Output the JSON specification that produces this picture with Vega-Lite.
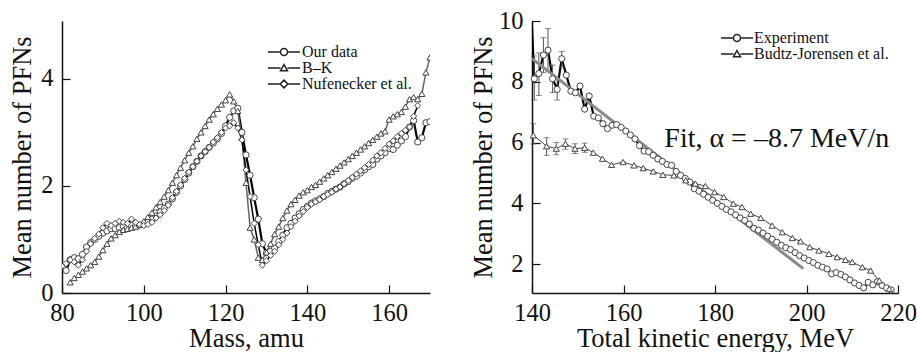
{
  "$schema": "https://vega.github.io/schema/vega-lite/v6.json",
  "padding": {"left": 9, "top": 8, "right": 0, "bottom": 0},
  "spacing": 40,
  "resolve": {"scale": {"shape": "independent"}, "legend": {"shape": "independent"}},
  "config": {
    "view": {"stroke": null},
    "font": "Liberation Serif",
    "axis": {
      "grid": false,
      "domainColor": "#111",
      "domainWidth": 1.5,
      "tickColor": "#111",
      "tickWidth": 1.2,
      "tickSize": -8,
      "labelFont": "Liberation Serif",
      "labelFontSize": 24.5,
      "labelColor": "#111",
      "labelFlush": false,
      "titleFont": "Liberation Serif",
      "titleFontSize": 26.5,
      "titleFontWeight": "normal",
      "titleColor": "#111"
    },
    "legend": {
      "labelFont": "Liberation Serif",
      "labelFontSize": 16,
      "labelColor": "#111"
    }
  },
  "datasets": {
    "left": [
      {"m":81,"v":0.42,"s":"Our data"},{"m":82,"v":0.62,"s":"Our data"},{"m":83,"v":0.66,"s":"Our data"},{"m":84,"v":0.64,"s":"Our data"},{"m":85,"v":0.72,"s":"Our data"},{"m":86,"v":0.86,"s":"Our data"},{"m":87,"v":0.94,"s":"Our data"},{"m":88,"v":1.0,"s":"Our data"},{"m":89,"v":1.06,"s":"Our data"},{"m":90,"v":1.12,"s":"Our data"},{"m":91,"v":1.16,"s":"Our data"},{"m":92,"v":1.2,"s":"Our data"},{"m":93,"v":1.2,"s":"Our data"},{"m":94,"v":1.22,"s":"Our data"},{"m":95,"v":1.24,"s":"Our data"},{"m":96,"v":1.22,"s":"Our data"},{"m":97,"v":1.26,"s":"Our data"},{"m":98,"v":1.25,"s":"Our data"},{"m":99,"v":1.27,"s":"Our data"},{"m":100,"v":1.28,"s":"Our data"},{"m":101,"v":1.32,"s":"Our data"},{"m":102,"v":1.38,"s":"Our data"},{"m":103,"v":1.44,"s":"Our data"},{"m":104,"v":1.52,"s":"Our data"},{"m":105,"v":1.58,"s":"Our data"},{"m":106,"v":1.66,"s":"Our data"},{"m":107,"v":1.76,"s":"Our data"},{"m":108,"v":1.88,"s":"Our data"},{"m":109,"v":2.0,"s":"Our data"},{"m":110,"v":2.12,"s":"Our data"},{"m":111,"v":2.24,"s":"Our data"},{"m":112,"v":2.36,"s":"Our data"},{"m":113,"v":2.46,"s":"Our data"},{"m":114,"v":2.56,"s":"Our data"},{"m":115,"v":2.64,"s":"Our data"},{"m":116,"v":2.72,"s":"Our data"},{"m":117,"v":2.8,"s":"Our data"},{"m":118,"v":2.88,"s":"Our data"},{"m":119,"v":2.98,"s":"Our data"},{"m":120,"v":3.12,"s":"Our data"},{"m":121,"v":3.28,"s":"Our data"},{"m":122,"v":3.4,"s":"Our data"},{"m":123,"v":3.45,"s":"Our data"},{"m":124,"v":3.0,"s":"Our data"},{"m":125,"v":2.58,"s":"Our data"},{"m":126,"v":2.2,"s":"Our data"},{"m":127,"v":1.78,"s":"Our data"},{"m":128,"v":1.38,"s":"Our data"},{"m":129,"v":0.92,"s":"Our data"},{"m":130,"v":0.75,"s":"Our data"},{"m":131,"v":0.78,"s":"Our data"},{"m":132,"v":0.84,"s":"Our data"},{"m":133,"v":0.96,"s":"Our data"},{"m":134,"v":1.08,"s":"Our data"},{"m":135,"v":1.22,"s":"Our data"},{"m":136,"v":1.3,"s":"Our data"},{"m":137,"v":1.4,"s":"Our data"},{"m":138,"v":1.48,"s":"Our data"},{"m":139,"v":1.56,"s":"Our data"},{"m":140,"v":1.62,"s":"Our data"},{"m":141,"v":1.68,"s":"Our data"},{"m":142,"v":1.72,"s":"Our data"},{"m":143,"v":1.76,"s":"Our data"},{"m":144,"v":1.8,"s":"Our data"},{"m":145,"v":1.86,"s":"Our data"},{"m":146,"v":1.9,"s":"Our data"},{"m":147,"v":1.94,"s":"Our data"},{"m":148,"v":1.98,"s":"Our data"},{"m":149,"v":2.04,"s":"Our data"},{"m":150,"v":2.08,"s":"Our data"},{"m":151,"v":2.14,"s":"Our data"},{"m":152,"v":2.18,"s":"Our data"},{"m":153,"v":2.24,"s":"Our data"},{"m":154,"v":2.3,"s":"Our data"},{"m":155,"v":2.36,"s":"Our data"},{"m":156,"v":2.4,"s":"Our data"},{"m":157,"v":2.5,"s":"Our data"},{"m":158,"v":2.56,"s":"Our data"},{"m":159,"v":2.62,"s":"Our data"},{"m":160,"v":2.7,"s":"Our data"},{"m":161,"v":2.68,"s":"Our data"},{"m":162,"v":2.76,"s":"Our data"},{"m":163,"v":2.84,"s":"Our data"},{"m":164,"v":2.92,"s":"Our data"},{"m":165,"v":3.1,"s":"Our data"},{"m":166,"v":3.22,"s":"Our data"},{"m":167,"v":2.82,"s":"Our data"},{"m":168,"v":2.9,"s":"Our data"},{"m":169,"v":3.18,"s":"Our data"},{"m":170,"v":3.2,"s":"Our data"},
      {"m":82,"v":0.2,"s":"B–K"},{"m":83,"v":0.28,"s":"B–K"},{"m":84,"v":0.34,"s":"B–K"},{"m":85,"v":0.4,"s":"B–K"},{"m":86,"v":0.46,"s":"B–K"},{"m":87,"v":0.52,"s":"B–K"},{"m":88,"v":0.58,"s":"B–K"},{"m":89,"v":0.68,"s":"B–K"},{"m":90,"v":0.8,"s":"B–K"},{"m":91,"v":0.92,"s":"B–K"},{"m":92,"v":1.02,"s":"B–K"},{"m":93,"v":1.08,"s":"B–K"},{"m":94,"v":1.14,"s":"B–K"},{"m":95,"v":1.18,"s":"B–K"},{"m":96,"v":1.2,"s":"B–K"},{"m":97,"v":1.22,"s":"B–K"},{"m":98,"v":1.24,"s":"B–K"},{"m":99,"v":1.28,"s":"B–K"},{"m":100,"v":1.34,"s":"B–K"},{"m":101,"v":1.42,"s":"B–K"},{"m":102,"v":1.5,"s":"B–K"},{"m":103,"v":1.6,"s":"B–K"},{"m":104,"v":1.7,"s":"B–K"},{"m":105,"v":1.8,"s":"B–K"},{"m":106,"v":1.92,"s":"B–K"},{"m":107,"v":2.06,"s":"B–K"},{"m":108,"v":2.2,"s":"B–K"},{"m":109,"v":2.34,"s":"B–K"},{"m":110,"v":2.48,"s":"B–K"},{"m":111,"v":2.62,"s":"B–K"},{"m":112,"v":2.74,"s":"B–K"},{"m":113,"v":2.88,"s":"B–K"},{"m":114,"v":3.0,"s":"B–K"},{"m":115,"v":3.12,"s":"B–K"},{"m":116,"v":3.24,"s":"B–K"},{"m":117,"v":3.34,"s":"B–K"},{"m":118,"v":3.44,"s":"B–K"},{"m":119,"v":3.52,"s":"B–K"},{"m":120,"v":3.6,"s":"B–K"},{"m":121,"v":3.71,"s":"B–K"},{"m":122,"v":3.58,"s":"B–K"},{"m":123,"v":3.4,"s":"B–K"},{"m":124,"v":2.9,"s":"B–K"},{"m":125,"v":2.06,"s":"B–K"},{"m":126,"v":1.22,"s":"B–K"},{"m":127,"v":1.0,"s":"B–K"},{"m":128,"v":0.66,"s":"B–K"},{"m":129,"v":0.62,"s":"B–K"},{"m":130,"v":0.76,"s":"B–K"},{"m":131,"v":0.92,"s":"B–K"},{"m":132,"v":1.1,"s":"B–K"},{"m":133,"v":1.24,"s":"B–K"},{"m":134,"v":1.4,"s":"B–K"},{"m":135,"v":1.54,"s":"B–K"},{"m":136,"v":1.66,"s":"B–K"},{"m":137,"v":1.74,"s":"B–K"},{"m":138,"v":1.82,"s":"B–K"},{"m":139,"v":1.88,"s":"B–K"},{"m":140,"v":1.92,"s":"B–K"},{"m":141,"v":1.98,"s":"B–K"},{"m":142,"v":2.02,"s":"B–K"},{"m":143,"v":2.08,"s":"B–K"},{"m":144,"v":2.14,"s":"B–K"},{"m":145,"v":2.2,"s":"B–K"},{"m":146,"v":2.26,"s":"B–K"},{"m":147,"v":2.32,"s":"B–K"},{"m":148,"v":2.38,"s":"B–K"},{"m":149,"v":2.44,"s":"B–K"},{"m":150,"v":2.5,"s":"B–K"},{"m":151,"v":2.56,"s":"B–K"},{"m":152,"v":2.62,"s":"B–K"},{"m":153,"v":2.68,"s":"B–K"},{"m":154,"v":2.74,"s":"B–K"},{"m":155,"v":2.8,"s":"B–K"},{"m":156,"v":2.86,"s":"B–K"},{"m":157,"v":2.92,"s":"B–K"},{"m":158,"v":2.98,"s":"B–K"},{"m":159,"v":3.02,"s":"B–K"},{"m":160,"v":3.24,"s":"B–K"},{"m":161,"v":3.3,"s":"B–K"},{"m":162,"v":3.34,"s":"B–K"},{"m":163,"v":3.38,"s":"B–K"},{"m":164,"v":3.48,"s":"B–K"},{"m":165,"v":3.62,"s":"B–K"},{"m":166,"v":3.66,"s":"B–K"},{"m":167,"v":3.62,"s":"B–K"},{"m":168,"v":3.72,"s":"B–K"},{"m":169,"v":4.12,"s":"B–K"},{"m":170,"v":4.4,"s":"B–K"},
      {"m":80,"v":0.5,"s":"Nufenecker et al."},{"m":81,"v":0.55,"s":"Nufenecker et al."},{"m":82,"v":0.62,"s":"Nufenecker et al."},{"m":83,"v":0.58,"s":"Nufenecker et al."},{"m":84,"v":0.52,"s":"Nufenecker et al."},{"m":85,"v":0.62,"s":"Nufenecker et al."},{"m":86,"v":0.78,"s":"Nufenecker et al."},{"m":87,"v":0.92,"s":"Nufenecker et al."},{"m":88,"v":1.02,"s":"Nufenecker et al."},{"m":89,"v":1.1,"s":"Nufenecker et al."},{"m":90,"v":1.22,"s":"Nufenecker et al."},{"m":91,"v":1.3,"s":"Nufenecker et al."},{"m":92,"v":1.26,"s":"Nufenecker et al."},{"m":93,"v":1.3,"s":"Nufenecker et al."},{"m":94,"v":1.34,"s":"Nufenecker et al."},{"m":95,"v":1.32,"s":"Nufenecker et al."},{"m":96,"v":1.3,"s":"Nufenecker et al."},{"m":97,"v":1.38,"s":"Nufenecker et al."},{"m":98,"v":1.32,"s":"Nufenecker et al."},{"m":99,"v":1.28,"s":"Nufenecker et al."},{"m":100,"v":1.26,"s":"Nufenecker et al."},{"m":101,"v":1.28,"s":"Nufenecker et al."},{"m":102,"v":1.32,"s":"Nufenecker et al."},{"m":103,"v":1.4,"s":"Nufenecker et al."},{"m":104,"v":1.46,"s":"Nufenecker et al."},{"m":105,"v":1.54,"s":"Nufenecker et al."},{"m":106,"v":1.64,"s":"Nufenecker et al."},{"m":107,"v":1.78,"s":"Nufenecker et al."},{"m":108,"v":1.9,"s":"Nufenecker et al."},{"m":109,"v":2.02,"s":"Nufenecker et al."},{"m":110,"v":2.14,"s":"Nufenecker et al."},{"m":111,"v":2.26,"s":"Nufenecker et al."},{"m":112,"v":2.36,"s":"Nufenecker et al."},{"m":113,"v":2.46,"s":"Nufenecker et al."},{"m":114,"v":2.56,"s":"Nufenecker et al."},{"m":115,"v":2.64,"s":"Nufenecker et al."},{"m":116,"v":2.72,"s":"Nufenecker et al."},{"m":117,"v":2.82,"s":"Nufenecker et al."},{"m":118,"v":2.9,"s":"Nufenecker et al."},{"m":119,"v":3.0,"s":"Nufenecker et al."},{"m":120,"v":3.08,"s":"Nufenecker et al."},{"m":121,"v":3.12,"s":"Nufenecker et al."},{"m":122,"v":3.18,"s":"Nufenecker et al."},{"m":123,"v":3.08,"s":"Nufenecker et al."},{"m":124,"v":2.86,"s":"Nufenecker et al."},{"m":125,"v":2.3,"s":"Nufenecker et al."},{"m":126,"v":1.8,"s":"Nufenecker et al."},{"m":127,"v":1.3,"s":"Nufenecker et al."},{"m":128,"v":0.9,"s":"Nufenecker et al."},{"m":129,"v":0.52,"s":"Nufenecker et al."},{"m":130,"v":0.6,"s":"Nufenecker et al."},{"m":131,"v":0.7,"s":"Nufenecker et al."},{"m":132,"v":0.78,"s":"Nufenecker et al."},{"m":133,"v":0.9,"s":"Nufenecker et al."},{"m":134,"v":1.0,"s":"Nufenecker et al."},{"m":135,"v":1.12,"s":"Nufenecker et al."},{"m":136,"v":1.24,"s":"Nufenecker et al."},{"m":137,"v":1.34,"s":"Nufenecker et al."},{"m":138,"v":1.44,"s":"Nufenecker et al."},{"m":139,"v":1.52,"s":"Nufenecker et al."},{"m":140,"v":1.6,"s":"Nufenecker et al."},{"m":141,"v":1.66,"s":"Nufenecker et al."},{"m":142,"v":1.7,"s":"Nufenecker et al."},{"m":143,"v":1.74,"s":"Nufenecker et al."},{"m":144,"v":1.8,"s":"Nufenecker et al."},{"m":145,"v":1.84,"s":"Nufenecker et al."},{"m":146,"v":1.88,"s":"Nufenecker et al."},{"m":147,"v":1.94,"s":"Nufenecker et al."},{"m":148,"v":1.98,"s":"Nufenecker et al."},{"m":149,"v":2.04,"s":"Nufenecker et al."},{"m":150,"v":2.1,"s":"Nufenecker et al."},{"m":151,"v":2.16,"s":"Nufenecker et al."},{"m":152,"v":2.22,"s":"Nufenecker et al."},{"m":153,"v":2.28,"s":"Nufenecker et al."},{"m":154,"v":2.34,"s":"Nufenecker et al."},{"m":155,"v":2.4,"s":"Nufenecker et al."},{"m":156,"v":2.48,"s":"Nufenecker et al."},{"m":157,"v":2.56,"s":"Nufenecker et al."},{"m":158,"v":2.62,"s":"Nufenecker et al."},{"m":159,"v":2.7,"s":"Nufenecker et al."},{"m":160,"v":2.78,"s":"Nufenecker et al."},{"m":161,"v":2.84,"s":"Nufenecker et al."},{"m":162,"v":2.92,"s":"Nufenecker et al."},{"m":163,"v":2.98,"s":"Nufenecker et al."},{"m":164,"v":3.04,"s":"Nufenecker et al."},{"m":165,"v":3.1,"s":"Nufenecker et al."},{"m":166,"v":3.3,"s":"Nufenecker et al."},{"m":167,"v":3.5,"s":"Nufenecker et al."}
    ],
    "right": [
      {"E":139.5,"v":11.5,"s":"Experiment"},
      {"E":140.5,"v":8.1,"s":"Experiment","lo":7.4,"hi":8.85},{"E":141.5,"v":8.27,"s":"Experiment","lo":7.55,"hi":8.95},{"E":142.5,"v":8.88,"s":"Experiment","lo":8.3,"hi":9.45},{"E":143.5,"v":9.04,"s":"Experiment","lo":8.35,"hi":9.75},{"E":144.5,"v":8.1,"s":"Experiment","lo":7.65,"hi":8.55},{"E":145.5,"v":7.75,"s":"Experiment","lo":7.4,"hi":8.1},{"E":146.5,"v":8.76,"s":"Experiment","lo":8.5,"hi":9.0},{"E":147.5,"v":8.22,"s":"Experiment"},{"E":148.5,"v":7.69,"s":"Experiment"},{"E":149.5,"v":7.64,"s":"Experiment"},{"E":150.5,"v":7.86,"s":"Experiment"},{"E":151.5,"v":7.1,"s":"Experiment"},{"E":152.5,"v":7.53,"s":"Experiment"},{"E":153.5,"v":6.87,"s":"Experiment"},{"E":154.5,"v":6.81,"s":"Experiment"},{"E":155.5,"v":6.62,"s":"Experiment"},{"E":156.5,"v":6.46,"s":"Experiment"},{"E":157.5,"v":6.57,"s":"Experiment"},{"E":158.5,"v":6.59,"s":"Experiment"},{"E":159.5,"v":6.5,"s":"Experiment"},{"E":160.5,"v":6.38,"s":"Experiment"},{"E":161.5,"v":6.25,"s":"Experiment"},{"E":162.5,"v":6.12,"s":"Experiment"},{"E":163.5,"v":5.9,"s":"Experiment"},{"E":164.5,"v":5.72,"s":"Experiment"},{"E":165.5,"v":5.7,"s":"Experiment"},{"E":166.5,"v":5.58,"s":"Experiment"},{"E":167.5,"v":5.46,"s":"Experiment"},{"E":168.5,"v":5.38,"s":"Experiment"},{"E":169.5,"v":5.28,"s":"Experiment"},{"E":170.5,"v":5.25,"s":"Experiment"},{"E":171.5,"v":5.05,"s":"Experiment"},{"E":172.5,"v":4.92,"s":"Experiment"},{"E":173.5,"v":4.82,"s":"Experiment"},{"E":174.5,"v":4.7,"s":"Experiment"},{"E":175.5,"v":4.48,"s":"Experiment"},{"E":176.5,"v":4.4,"s":"Experiment"},{"E":177.5,"v":4.3,"s":"Experiment"},{"E":178.5,"v":4.2,"s":"Experiment"},{"E":179.5,"v":4.1,"s":"Experiment"},{"E":180.5,"v":4.0,"s":"Experiment"},{"E":181.5,"v":3.9,"s":"Experiment"},{"E":182.5,"v":3.8,"s":"Experiment"},{"E":183.5,"v":3.72,"s":"Experiment"},{"E":184.5,"v":3.62,"s":"Experiment"},{"E":185.5,"v":3.52,"s":"Experiment"},{"E":186.5,"v":3.44,"s":"Experiment"},{"E":187.5,"v":3.32,"s":"Experiment"},{"E":188.5,"v":3.18,"s":"Experiment"},{"E":189.5,"v":3.12,"s":"Experiment"},{"E":190.5,"v":3.02,"s":"Experiment"},{"E":191.5,"v":2.92,"s":"Experiment"},{"E":192.5,"v":2.82,"s":"Experiment"},{"E":193.5,"v":2.72,"s":"Experiment"},{"E":194.5,"v":2.62,"s":"Experiment"},{"E":195.5,"v":2.54,"s":"Experiment"},{"E":196.5,"v":2.48,"s":"Experiment"},{"E":197.5,"v":2.38,"s":"Experiment"},{"E":198.5,"v":2.28,"s":"Experiment"},{"E":199.5,"v":2.2,"s":"Experiment"},{"E":200.5,"v":2.12,"s":"Experiment"},{"E":201.5,"v":2.05,"s":"Experiment"},{"E":202.5,"v":1.96,"s":"Experiment"},{"E":203.5,"v":1.9,"s":"Experiment"},{"E":204.5,"v":1.84,"s":"Experiment"},{"E":205.5,"v":1.68,"s":"Experiment"},{"E":206.5,"v":1.72,"s":"Experiment"},{"E":207.5,"v":1.66,"s":"Experiment"},{"E":208.5,"v":1.58,"s":"Experiment"},{"E":209.5,"v":1.48,"s":"Experiment"},{"E":210.5,"v":1.38,"s":"Experiment"},{"E":211.5,"v":1.3,"s":"Experiment"},{"E":212.5,"v":1.22,"s":"Experiment"},{"E":213.5,"v":1.4,"s":"Experiment"},{"E":214.5,"v":1.32,"s":"Experiment"},{"E":215.5,"v":1.42,"s":"Experiment"},{"E":216.5,"v":1.3,"s":"Experiment"},{"E":217.5,"v":1.22,"s":"Experiment"},{"E":218.5,"v":1.15,"s":"Experiment"},
      {"E":140.3,"v":6.24,"s":"Budtz-Jorensen et al.","lo":5.95,"hi":6.62},{"E":143.2,"v":5.88,"s":"Budtz-Jorensen et al.","lo":5.58,"hi":6.16},{"E":145.3,"v":5.8,"s":"Budtz-Jorensen et al.","lo":5.6,"hi":6.0},{"E":147.3,"v":5.96,"s":"Budtz-Jorensen et al.","lo":5.78,"hi":6.12},{"E":149.4,"v":5.8,"s":"Budtz-Jorensen et al.","lo":5.64,"hi":5.96},{"E":151.5,"v":5.83,"s":"Budtz-Jorensen et al.","lo":5.68,"hi":5.98},{"E":153.4,"v":5.67,"s":"Budtz-Jorensen et al."},{"E":155.4,"v":5.47,"s":"Budtz-Jorensen et al."},{"E":157.4,"v":5.27,"s":"Budtz-Jorensen et al."},{"E":159.9,"v":5.36,"s":"Budtz-Jorensen et al."},{"E":162.3,"v":5.25,"s":"Budtz-Jorensen et al."},{"E":164.3,"v":5.16,"s":"Budtz-Jorensen et al."},{"E":166.5,"v":5.05,"s":"Budtz-Jorensen et al."},{"E":168.6,"v":4.94,"s":"Budtz-Jorensen et al."},{"E":171.0,"v":4.92,"s":"Budtz-Jorensen et al."},{"E":173.6,"v":4.76,"s":"Budtz-Jorensen et al."},{"E":175.7,"v":4.65,"s":"Budtz-Jorensen et al."},{"E":177.9,"v":4.57,"s":"Budtz-Jorensen et al."},{"E":179.9,"v":4.37,"s":"Budtz-Jorensen et al."},{"E":181.9,"v":4.21,"s":"Budtz-Jorensen et al."},{"E":184.0,"v":3.99,"s":"Budtz-Jorensen et al."},{"E":185.9,"v":3.88,"s":"Budtz-Jorensen et al."},{"E":187.8,"v":3.66,"s":"Budtz-Jorensen et al."},{"E":190.0,"v":3.52,"s":"Budtz-Jorensen et al."},{"E":192.5,"v":3.27,"s":"Budtz-Jorensen et al."},{"E":194.7,"v":3.05,"s":"Budtz-Jorensen et al."},{"E":196.9,"v":2.86,"s":"Budtz-Jorensen et al."},{"E":198.7,"v":2.75,"s":"Budtz-Jorensen et al."},{"E":200.7,"v":2.56,"s":"Budtz-Jorensen et al."},{"E":202.7,"v":2.45,"s":"Budtz-Jorensen et al."},{"E":204.9,"v":2.34,"s":"Budtz-Jorensen et al."},{"E":206.7,"v":2.23,"s":"Budtz-Jorensen et al."},{"E":208.5,"v":2.14,"s":"Budtz-Jorensen et al."},{"E":210.0,"v":2.07,"s":"Budtz-Jorensen et al."},{"E":212.2,"v":1.9,"s":"Budtz-Jorensen et al."},{"E":214.0,"v":1.79,"s":"Budtz-Jorensen et al."},{"E":215.9,"v":1.46,"s":"Budtz-Jorensen et al."},{"E":218.1,"v":1.19,"s":"Budtz-Jorensen et al."}
    ],
    "fit": [
      {"E":140.0,"v":8.76},{"E":199.3,"v":1.85}
    ]
  },
  "hconcat": [
    {
      "width": 368,
      "height": 272,
      "data": {"name": "left"},
      "layer": [
        {
          "mark": {"type": "line", "clip": true},
          "encoding": {
            "x": {"field": "m", "type": "quantitative", "scale": {"domain": [80, 170], "nice": false, "zero": false},
                  "axis": {"title": "Mass, amu", "values": [80, 100, 120, 140, 160], "labelPadding": 16, "titlePadding": 1}},
            "y": {"field": "v", "type": "quantitative", "scale": {"domain": [0, 5.08], "nice": false},
                  "axis": {"title": "Mean number of PFNs", "values": [0, 2, 4], "labelPadding": 17, "titlePadding": 4}},
            "detail": {"field": "s"},
            "color": {"condition": {"test": "datum.s === 'B–K'", "value": "#666666"}, "value": "#000000"},
            "strokeWidth": {"condition": {"test": "datum.s === 'Our data'", "value": 2.2}, "value": 1.5}
          }
        },
        {
          "mark": {"type": "point", "filled": false, "fill": "white", "fillOpacity": 1, "stroke": "#444", "strokeWidth": 1, "size": 38, "opacity": 1, "clip": true},
          "encoding": {
            "x": {"field": "m", "type": "quantitative"},
            "y": {"field": "v", "type": "quantitative"},
            "shape": {"condition": [{"test": "datum.s === 'B–K'", "value": "triangle-up"}, {"test": "datum.s === 'Nufenecker et al.'", "value": "diamond"}], "value": "circle"}
          }
        },
        {
          "transform": [{"filter": "false"}],
          "mark": {"type": "point", "filled": false, "color": "#222", "strokeWidth": 1.5, "opacity": 1},
          "encoding": {
            "x": {"field": "m", "type": "quantitative"},
            "y": {"field": "v", "type": "quantitative"},
            "shape": {"field": "s", "type": "nominal",
              "scale": {"domain": ["Our data", "B–K", "Nufenecker et al."],
                        "range": ["M-1,0H0.785M1.785,0H3.57M0.785,0A0.5,0.5 0 1,0 1.785,0A0.5,0.5 0 1,0 0.785,0Z",
                                  "M-1,0H0.785M1.785,0H3.57M1.285,-0.5L1.785,0.4L0.785,0.4Z",
                                  "M-1,0H0.735M1.835,0H3.57M1.285,-0.55L1.835,0L1.285,0.55L0.735,0Z"]},
              "legend": {"title": null, "orient": "none", "legendX": 205, "legendY": 23, "symbolSize": 196, "symbolStrokeWidth": 1.5, "symbolStrokeColor": "#222", "labelOffset": 19, "rowPadding": -5}
            }
          }
        }
      ]
    },
    {
      "width": 366,
      "height": 272,
      "layer": [
        {
          "data": {"name": "right"},
          "mark": {"type": "line", "clip": true},
          "encoding": {
            "x": {"field": "E", "type": "quantitative", "scale": {"domain": [140, 220], "nice": false, "zero": false},
                  "axis": {"title": "Total kinetic energy, MeV", "values": [140, 160, 180, 200, 220], "labelPadding": 16, "titlePadding": 1}},
            "y": {"field": "v", "type": "quantitative", "scale": {"domain": [1.05, 10], "nice": false, "zero": false},
                  "axis": {"title": "Mean number of PFNs", "values": [2, 4, 6, 8, 10], "labelPadding": 17, "titlePadding": 1}},
            "detail": {"field": "s"},
            "color": {"condition": {"test": "datum.s === 'Experiment'", "value": "#000000"}, "value": "#444444"},
            "strokeWidth": {"condition": {"test": "datum.s === 'Experiment'", "value": 2.2}, "value": 1}
          }
        },
        {
          "data": {"name": "right"},
          "transform": [{"filter": "isValid(datum.lo)"}],
          "mark": {"type": "errorbar", "ticks": {"size": 6}, "color": "#555", "thickness": 1},
          "encoding": {
            "x": {"field": "E", "type": "quantitative", "title": "Total kinetic energy, MeV"},
            "y": {"field": "lo", "type": "quantitative", "title": "Mean number of PFNs"},
            "y2": {"field": "hi"}
          }
        },
        {
          "data": {"name": "fit"},
          "mark": {"type": "line", "color": "#8a8a8a", "strokeWidth": 3},
          "encoding": {
            "x": {"field": "E", "type": "quantitative"},
            "y": {"field": "v", "type": "quantitative"}
          }
        },
        {
          "data": {"name": "right"},
          "transform": [{"filter": "datum.E >= 140"}],
          "mark": {"type": "point", "filled": false, "fill": "white", "fillOpacity": 1, "stroke": "#444", "strokeWidth": 1, "size": 38, "opacity": 1},
          "encoding": {
            "x": {"field": "E", "type": "quantitative"},
            "y": {"field": "v", "type": "quantitative"},
            "shape": {"condition": {"test": "datum.s === 'Budtz-Jorensen et al.'", "value": "triangle-up"}, "value": "circle"}
          }
        },
        {
          "data": {"name": "right"},
          "transform": [{"filter": "false"}],
          "mark": {"type": "point", "filled": false, "color": "#222", "strokeWidth": 1.5, "opacity": 1},
          "encoding": {
            "x": {"field": "E", "type": "quantitative"},
            "y": {"field": "v", "type": "quantitative"},
            "shape": {"field": "s", "type": "nominal",
              "scale": {"domain": ["Experiment", "Budtz-Jorensen et al."],
                        "range": ["M-1,0H0.785M1.785,0H3.57M0.785,0A0.5,0.5 0 1,0 1.785,0A0.5,0.5 0 1,0 0.785,0Z",
                                  "M-1,0H0.785M1.785,0H3.57M1.285,-0.5L1.785,0.4L0.785,0.4Z"]},
              "legend": {"title": null, "orient": "none", "legendX": 188, "legendY": 9, "symbolSize": 196, "symbolStrokeWidth": 1.5, "symbolStrokeColor": "#222", "labelOffset": 18, "rowPadding": 0}
            }
          }
        },
        {
          "data": {"values": [{"label": "Fit, α = –8.7 MeV/n"}]},
          "mark": {"type": "text", "font": "Liberation Serif", "fontSize": 28, "align": "center", "baseline": "middle", "color": "#111"},
          "encoding": {
            "x": {"datum": 193.5},
            "y": {"datum": 6.13},
            "text": {"field": "label"}
          }
        }
      ]
    }
  ]
}
